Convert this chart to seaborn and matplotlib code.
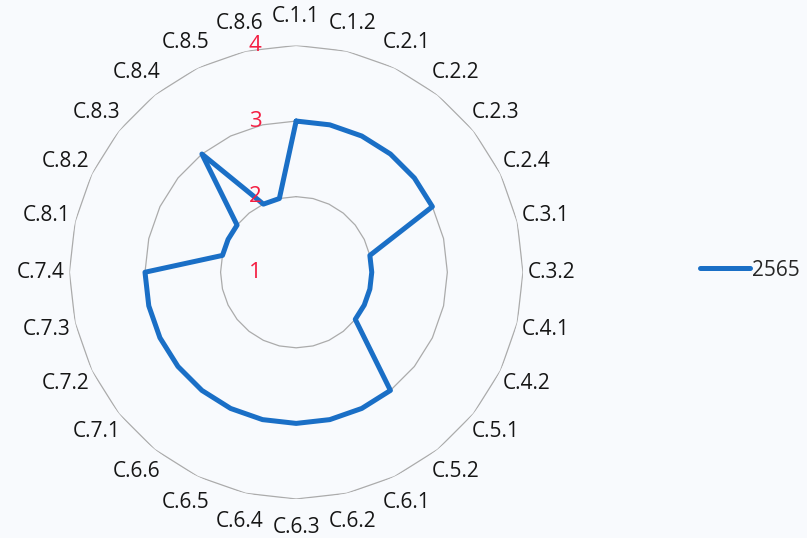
import numpy as np
import pandas as pd
import seaborn as sns
import matplotlib
matplotlib.use("Agg")
import matplotlib.pyplot as plt
from matplotlib.transforms import offset_copy

# --- data ---
categories = [
    "C.1.1", "C.1.2", "C.2.1", "C.2.2", "C.2.3", "C.2.4", "C.3.1", "C.3.2",
    "C.4.1", "C.4.2", "C.5.1", "C.5.2", "C.6.1", "C.6.2", "C.6.3", "C.6.4",
    "C.6.5", "C.6.6", "C.7.1", "C.7.2", "C.7.3", "C.7.4", "C.8.1", "C.8.2",
    "C.8.3", "C.8.4", "C.8.5", "C.8.6",
]
scores_2565 = [
    3, 3, 3, 3, 3, 3, 2, 2,
    2, 2, 2, 3, 3, 3, 3, 3,
    3, 3, 3, 3, 3, 3, 2, 2,
    2, 3, 2, 2,
]
series_name = "2565"
r_ticks = [1, 2, 3, 4]

sns.set_theme(style="white")
plt.rcParams["font.family"] = ["Open Sans", "DejaVu Sans"]

bg = "#f8fafd"
fig = plt.figure(figsize=(8.07, 5.38), dpi=100, facecolor=bg)
ax = fig.add_axes([0.086, 0.072, 0.562, 0.844], projection="polar")
ax.set_facecolor(bg)
ax.set_theta_zero_location("N")
ax.set_theta_direction(-1)

n = len(categories)
angles = np.arange(n) * 2 * np.pi / n
closed = np.append(angles, angles[0])

# polygon grid rings at 2, 3, 4
for v in r_ticks[1:]:
    ax.plot(closed, np.full(n + 1, v), color="#ababab", lw=0.9, zorder=1)

df = pd.DataFrame({"angle": closed, "score": scores_2565 + scores_2565[:1]})
sns.lineplot(data=df, x="angle", y="score", sort=False, estimator=None,
             color="#1a6fc6", lw=3.6, ax=ax, label=series_name, legend=False,
             zorder=3)

ax.set_ylim(1, 4)
ax.set_yticks(r_ticks)
ax.set_yticklabels([])
ax.set_xticks(angles)
ax.set_xticklabels([])
ax.grid(False)
ax.spines["polar"].set_visible(False)
ax.set_xlabel("")
ax.set_ylabel("")

# category labels around the outside
for a, lab in zip(angles, categories):
    ax.text(a, 4.38, lab, ha="center", va="center", fontsize=15,
            color="#161616")

# red radial labels, left of the vertical axis
shift = offset_copy(ax.transData, fig=fig, x=-41, y=0, units="dots")
for v in r_ticks:
    ax.text(0, v, str(v), transform=shift, ha="center", va="center",
            fontsize=16, color="#f41e42", zorder=4)

handles, labels = ax.get_legend_handles_labels()
fig.legend(handles, labels, loc="center left",
           bbox_to_anchor=(700 / 807, 1 - 270 / 538), frameon=False,
           borderpad=0, borderaxespad=0, handlelength=2.4, handletextpad=0.1,
           fontsize=15)

fig.savefig("out.png", dpi=100, facecolor=bg)
